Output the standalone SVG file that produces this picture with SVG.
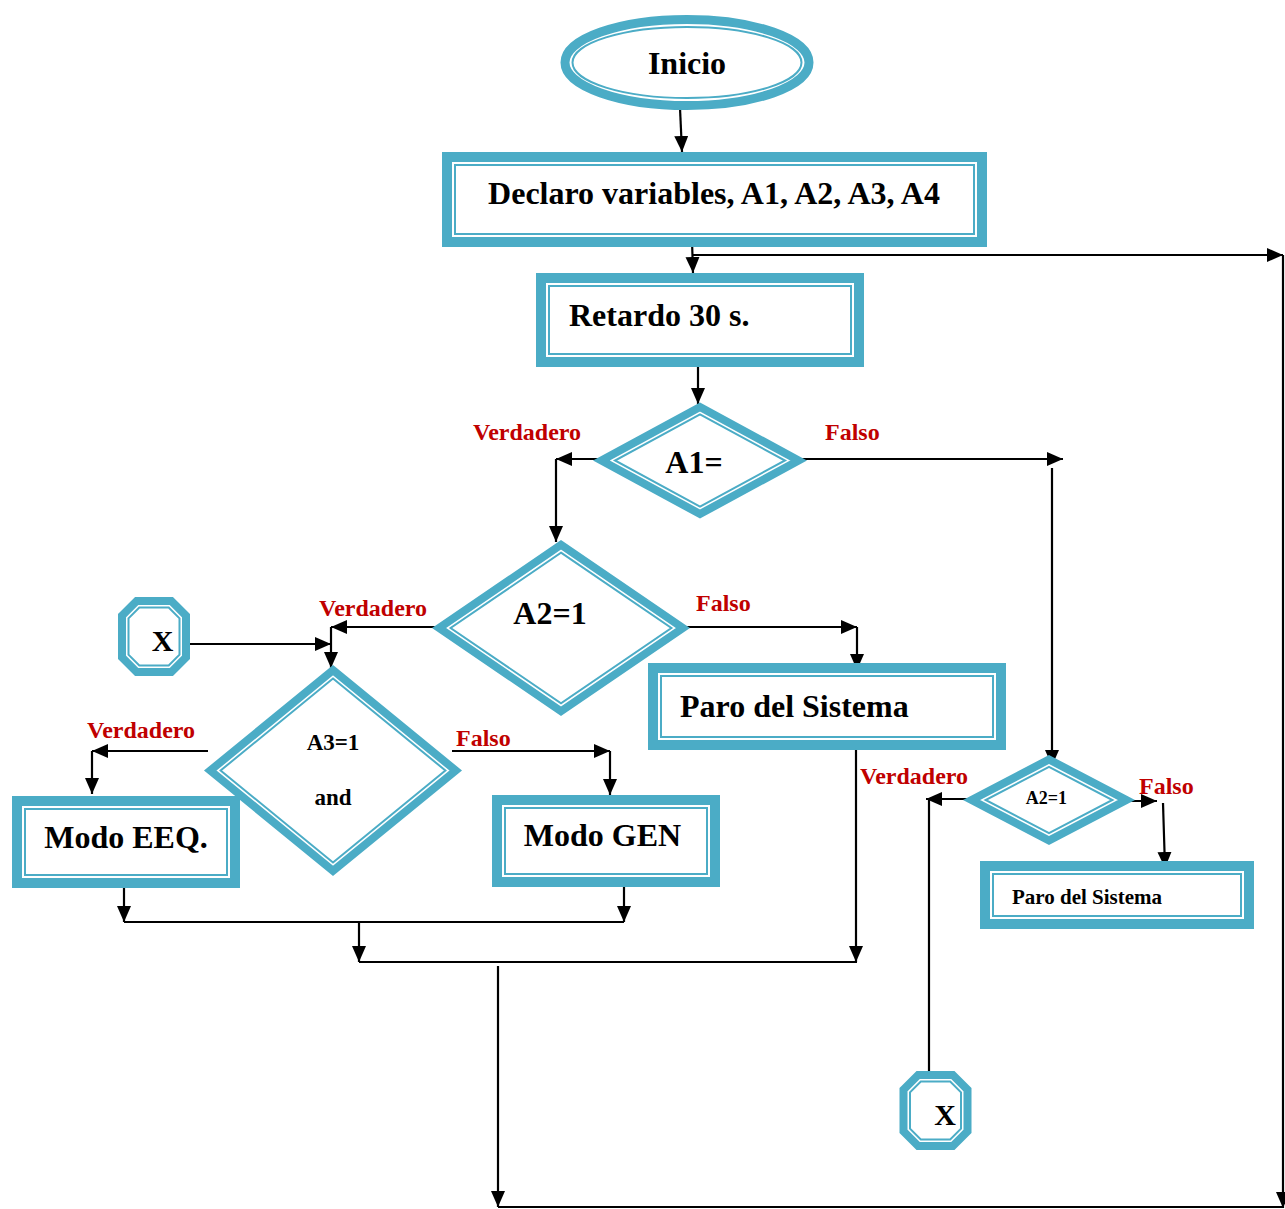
<svg xmlns="http://www.w3.org/2000/svg" xmlns:xlink="http://www.w3.org/1999/xlink" width="1285" height="1209" viewBox="0 0 1285 1209">
<style>
.thick{fill:#fff;stroke:#4BACC6;stroke-width:10}
.thickd{fill:#fff;stroke:#4BACC6;stroke-width:8}
.thin{fill:none;stroke:#4BACC6;stroke-width:2}
.t{font-family:"Liberation Serif","Times New Roman",serif;font-weight:bold;fill:#000}
.big{font-size:32px}
.lbl{font-family:"Liberation Serif","Times New Roman",serif;font-weight:bold;fill:#C00000;font-size:24px}
.c{text-anchor:middle}
.con line,.con path{stroke:#000;stroke-width:2.2;fill:none}
</style>
<defs>
<marker id="ah" markerUnits="userSpaceOnUse" markerWidth="17" markerHeight="15" refX="16" refY="7" orient="auto">
<path d="M0,0 L16,7 L0,14 z" fill="#000"/>
</marker>
<g id="oct">
<polygon class="thickd" points="-17.3,-35.5 17.3,-35.5 32,-20.8 32,20.8 17.3,35.5 -17.3,35.5 -32,20.8 -32,-20.8"/>
<polygon class="thin" points="-14.7,-29 14.7,-29 25.5,-18.2 25.5,18.2 14.7,29 -14.7,29 -25.5,18.2 -25.5,-18.2"/>
</g>
</defs>
<rect width="1285" height="1209" fill="#fff"/>

<g id="connectors" class="con">
<line x1="680" y1="108" x2="682" y2="152" marker-end="url(#ah)"/>
<line x1="692" y1="240" x2="693" y2="273" marker-end="url(#ah)"/>
<line x1="693" y1="255" x2="1283" y2="255" marker-end="url(#ah)"/>
<line x1="1283" y1="255" x2="1283" y2="1208" marker-end="url(#ah)"/>
<line x1="498" y1="1207" x2="1283" y2="1207"/>
<line x1="698" y1="362" x2="698" y2="404" marker-end="url(#ah)"/>
<line x1="610" y1="459" x2="556" y2="459" marker-end="url(#ah)"/>
<line x1="556" y1="459" x2="556" y2="542" marker-end="url(#ah)"/>
<line x1="787" y1="459" x2="1063" y2="459" marker-end="url(#ah)"/>
<line x1="1052" y1="468" x2="1052" y2="766" marker-end="url(#ah)"/>
<line x1="440" y1="627" x2="331" y2="627" marker-end="url(#ah)"/>
<line x1="331" y1="627" x2="331" y2="668" marker-end="url(#ah)"/>
<line x1="190" y1="644" x2="331" y2="644" marker-end="url(#ah)"/>
<line x1="676" y1="627" x2="857" y2="627" marker-end="url(#ah)"/>
<line x1="857" y1="627" x2="857" y2="670" marker-end="url(#ah)"/>
<line x1="208" y1="751" x2="92" y2="751" marker-end="url(#ah)"/>
<line x1="92" y1="751" x2="92" y2="794" marker-end="url(#ah)"/>
<line x1="452" y1="751" x2="610" y2="751" marker-end="url(#ah)"/>
<line x1="610" y1="751" x2="610" y2="795" marker-end="url(#ah)"/>
<line x1="124" y1="880" x2="124" y2="922" marker-end="url(#ah)"/>
<line x1="624" y1="880" x2="624" y2="922" marker-end="url(#ah)"/>
<line x1="124" y1="922" x2="624" y2="922"/>
<line x1="359" y1="922" x2="359" y2="962" marker-end="url(#ah)"/>
<line x1="359" y1="962" x2="857" y2="962"/>
<line x1="856" y1="748" x2="856" y2="962" marker-end="url(#ah)"/>
<line x1="498" y1="966" x2="498" y2="1207" marker-end="url(#ah)"/>
<line x1="978" y1="799" x2="926" y2="799" marker-end="url(#ah)"/>
<line x1="929" y1="800" x2="929" y2="1072"/>
<line x1="1110" y1="801" x2="1157" y2="801" marker-end="url(#ah)"/>
<line x1="1163" y1="803" x2="1165" y2="868" marker-end="url(#ah)"/>
</g>

<g id="inicio">
<ellipse cx="687" cy="62.5" rx="122" ry="43" fill="#fff" stroke="#4BACC6" stroke-width="9"/>
<ellipse class="thin" cx="687" cy="62.5" rx="114.5" ry="35.5"/>
<text class="t big c" x="687" y="74">Inicio</text>
</g>

<g id="declaro">
<rect class="thick" x="447" y="157" width="535" height="85"/>
<rect class="thin" x="455" y="165" width="519" height="69"/>
<text class="t big c" x="714" y="204">Declaro variables, A1, A2, A3, A4</text>
</g>

<g id="retardo">
<rect class="thick" x="541" y="278" width="318" height="84"/>
<rect class="thin" x="549" y="286" width="302" height="68"/>
<text class="t big" x="569" y="326">Retardo 30 s.</text>
</g>

<g id="a1">
<polygon class="thickd" points="700,407 798.6,460.5 700,514 601.4,460.5"/>
<polygon class="thin" points="700,414.4 785,460.5 700,506.6 615,460.5"/>
<text class="t big c" x="694" y="473">A1=</text>
</g>

<g id="a2">
<polygon class="thickd" points="561,544.8 682.9,628 561,711.2 439.1,628"/>
<polygon class="thin" points="561,552.7 671.4,628 561,703.3 450.6,628"/>
<text class="t big c" x="550" y="624">A2=1</text>
</g>

<g id="x1">
<use xlink:href="#oct" transform="translate(154,636.5)"/>
<text class="t c" style="font-size:30px" x="162.5" y="651">X</text>
</g>

<g id="paro1">
<rect class="thick" x="653" y="668" width="348" height="77"/>
<rect class="thin" x="661" y="676" width="332" height="61"/>
<text class="t big" x="680" y="717">Paro del Sistema</text>
</g>

<g id="a3">
<polygon class="thickd" points="333,670.2 455.7,770.5 333,870.8 210.3,770.5"/>
<polygon class="thin" points="333,678.6 445.4,770.5 333,862.4 220.6,770.5"/>
<text class="t c" style="font-size:23px" x="333" y="750">A3=1</text>
<text class="t c" style="font-size:23px" x="333" y="805">and</text>
</g>

<g id="eeq">
<rect class="thick" x="17" y="801" width="218" height="82"/>
<rect class="thin" x="25" y="809" width="202" height="66"/>
<text class="t big c" x="126" y="848">Modo EEQ.</text>
</g>

<g id="gen">
<rect class="thick" x="497" y="800" width="218" height="82"/>
<rect class="thin" x="505" y="808" width="202" height="66"/>
<text class="t big c" x="602.5" y="846">Modo GEN</text>
</g>

<g id="a2b">
<polygon class="thickd" points="1049,759.5 1126.4,800 1049,840.5 971.6,800"/>
<polygon class="thin" points="1049,766.8 1112.4,800 1049,833.2 985.6,800"/>
<text class="t c" style="font-size:18px" x="1046.5" y="804">A2=1</text>
</g>

<g id="paro2">
<rect class="thick" x="985" y="866" width="264" height="58"/>
<rect class="thin" x="993" y="874" width="248" height="42"/>
<text class="t" style="font-size:21px" x="1012" y="904">Paro del Sistema</text>
</g>

<g id="x2">
<use xlink:href="#oct" transform="translate(935.5,1110.5)"/>
<text class="t c" style="font-size:30px" x="945" y="1125">X</text>
</g>

<g id="labels">
<text class="lbl" x="473" y="440">Verdadero</text>
<text class="lbl" x="825" y="440">Falso</text>
<text class="lbl" x="319" y="616">Verdadero</text>
<text class="lbl" x="696" y="611">Falso</text>
<text class="lbl" x="87" y="738">Verdadero</text>
<text class="lbl" x="456" y="746">Falso</text>
<text class="lbl" x="860" y="784">Verdadero</text>
<text class="lbl" x="1139" y="794">Falso</text>
</g>
</svg>
